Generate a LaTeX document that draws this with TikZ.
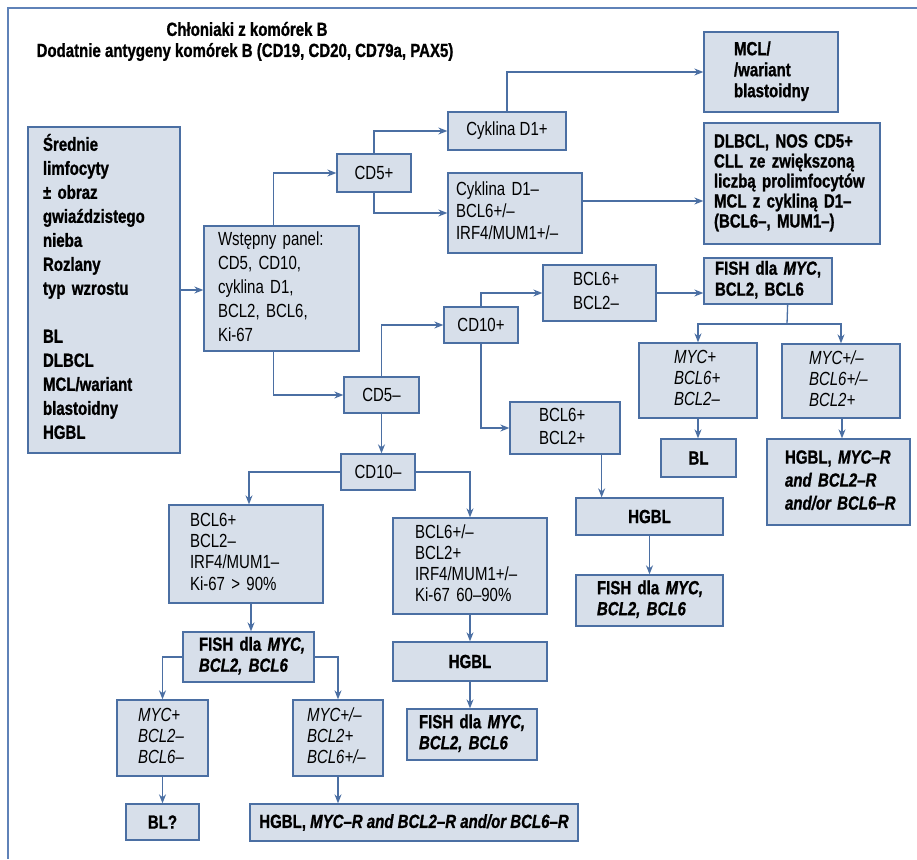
\documentclass[tikz,border=0pt]{standalone}
\usepackage{fontspec}
\setmainfont[FakeStretch=0.79, BoldFeatures={FakeBold=1}, BoldItalicFeatures={FakeBold=1}]{Liberation Sans}
\usetikzlibrary{arrows.meta}
\definecolor{bc}{HTML}{4B6FA3}
\definecolor{bf}{HTML}{D7DFEA}
\definecolor{fc}{HTML}{5F82B8}
\newcommand\tl[1]{\begin{tabular}{@{}l@{}}#1\end{tabular}}
\begin{document}
\begin{tikzpicture}[x=1pt,y=-1pt,
  bx/.style={draw=bc, fill=bf, line width=1.3pt, inner sep=0pt},
  rgf/.style={font=\fontsize{19}{#1}\selectfont},
  bdf/.style={font=\fontsize{19}{#1}\selectfont\bfseries},
  itf/.style={font=\fontsize{19}{#1}\selectfont\itshape},
  arr/.style={draw=bc, line width=1.3pt, -{Stealth[length=9pt,width=7pt]}},
  plain/.style={draw=bc, line width=1.3pt},
  frame/.style={draw=fc, line width=1.4pt}]
\useasboundingbox (0,0) rectangle (917,859);
\draw[frame] (917,8) -- (8,8) -- (8,859);

% title
\node[bdf=22] (t1) at (247,29) {Chłoniaki z komórek B};
\node[bdf=22] (t2) at (245,52) {Dodatnie antygeny komórek B (CD19, CD20, CD79a, PAX5)};

% boxes
\node[bx, bdf=24, minimum width=152pt, minimum height=326pt, text width=122pt, align=left] (big) at (104,290)
  {\tl{Średnie\\limfocyty\\± obraz\\gwiaździstego\\nieba\\Rozlany\\typ wzrostu\\ \\BL\\DLBCL\\MCL/wariant\\blastoidny\\HGBL}};
\node[bx, rgf=24, minimum width=155pt, minimum height=125pt, text width=127pt, align=left] (wst) at (281.5,288.5)
  {\tl{Wstępny panel:\\CD5, CD10,\\cyklina D1,\\BCL2, BCL6,\\Ki-67}};
\node[bx, rgf=24, minimum width=74pt, minimum height=38pt] (cd5p) at (374,173) {CD5+};
\node[bx, rgf=24, minimum width=118pt, minimum height=38pt] (cyp) at (507,131) {Cyklina D1+};
\node[bx, rgf=22, minimum width=134pt, minimum height=80pt, text width=118pt, align=left] (cym) at (515,213)
  {\tl{Cyklina D1–\\BCL6+/–\\IRF4/MUM1+/–}};
\node[bx, bdf=21, minimum width=134pt, minimum height=80pt, text width=74pt, align=left] (mcl) at (771,72)
  {\tl{MCL/\\/wariant\\blastoidny}};
\node[bx, bdf=20, minimum width=176pt, minimum height=121pt, text width=156pt, align=left] (dlbcl) at (792,183.5)
  {\tl{DLBCL, NOS CD5+\\CLL ze zwiększoną\\liczbą prolimfocytów\\MCL z cykliną D1–\\(BCL6–, MUM1–)}};
\node[bx, bdf=21, minimum width=128pt, minimum height=46pt, text width=106pt, align=left] (fishA) at (768,281)
  {\tl{FISH dla \textit{MYC},\\BCL2, BCL6}};
\node[bx, rgf=24, minimum width=113pt, minimum height=56pt, text width=53pt, align=left] (b6p2m) at (599.5,293)
  {\tl{BCL6+\\BCL2–}};
\node[bx, rgf=24, minimum width=74pt, minimum height=36pt] (cd10p) at (481,325) {CD10+};
\node[bx, rgf=24, minimum width=75pt, minimum height=36pt] (cd5m) at (381.5,395) {CD5–};
\node[bx, rgf=23, minimum width=110pt, minimum height=52pt, text width=52pt, align=left] (b6p2p) at (565,428)
  {\tl{BCL6+\\BCL2+}};
\node[bx, bdf=24, minimum width=147pt, minimum height=37pt] (hgblA) at (649.5,516.5) {HGBL};
\node[bx, bdf=21, minimum width=147pt, minimum height=51pt, text width=105pt, align=left] (fishB) at (649.5,600.5)
  {\tl{FISH dla \textit{MYC,}\\\textit{BCL2, BCL6}}};
\node[bx, itf=21, minimum width=118pt, minimum height=75pt, text width=48pt, align=left] (mycA) at (698,380.5)
  {\tl{MYC+\\BCL6+\\BCL2–}};
\node[bx, itf=21, minimum width=118pt, minimum height=74pt, text width=64pt, align=left] (mycB) at (841,381)
  {\tl{MYC+/–\\BCL6+/–\\BCL2+}};
\node[bx, bdf=24, minimum width=75pt, minimum height=38pt] (bl) at (698.5,458) {BL};
\node[bx, bdf=23, minimum width=143pt, minimum height=86pt, text width=107pt, align=left] (hgblB) at (838.5,482)
  {\tl{HGBL, \textit{MYC–R}\\\textit{and BCL2–R}\\\textit{and/or BCL6–R}}};
\node[bx, rgf=24, minimum width=74pt, minimum height=36pt] (cd10m) at (378,472) {CD10–};
\node[bx, rgf=21.3, minimum width=154pt, minimum height=98pt, text width=112pt, align=left] (lb) at (246,554)
  {\tl{BCL6+\\BCL2–\\IRF4/MUM1–\\Ki-67 > 90\%}};
\node[bx, rgf=21, minimum width=154pt, minimum height=96pt, text width=110pt, align=left] (rb) at (470,566)
  {\tl{BCL6+/–\\BCL2+\\IRF4/MUM1+/–\\Ki-67 60–90\%}};
\node[bx, bdf=21, minimum width=131pt, minimum height=50pt, text width=99pt, align=left] (fishC) at (248.5,657)
  {\tl{FISH dla \textit{MYC,}\\\textit{BCL2, BCL6}}};
\node[bx, bdf=24, minimum width=154pt, minimum height=39pt] (hgblC) at (470,661.5) {HGBL};
\node[bx, bdf=21, minimum width=130pt, minimum height=51pt, text width=106pt, align=left] (fishD) at (472,734.5)
  {\tl{FISH dla \textit{MYC,}\\\textit{BCL2, BCL6}}};
\node[bx, itf=21, minimum width=91pt, minimum height=76pt, text width=49pt, align=left] (mycC) at (162.5,738)
  {\tl{MYC+\\BCL2–\\BCL6–}};
\node[bx, itf=21, minimum width=90pt, minimum height=76pt, text width=62pt, align=left] (mycD) at (338,738)
  {\tl{MYC+/–\\BCL2+\\BCL6+/–}};
\node[bx, bdf=24, minimum width=73pt, minimum height=36pt] (blq) at (162.5,822) {BL?};
\node[bx, bdf=24, minimum width=328pt, minimum height=37pt] (hgblD) at (414,822.5)
  {HGBL, \textit{MYC–R and BCL2–R and/or BCL6–R}};

% connectors
\draw[arr] (big.east) -- (big.east -| wst.west);
\draw[arr] ([xshift=70pt]wst.north west) |- (cd5p.west);
\draw[arr] ([xshift=70pt]wst.south west) |- (cd5m.west);
\draw[arr] (cd5p.north) |- (cyp.west);
\draw[arr] (cd5p.south) |- (cym.west);
\draw[arr] (cyp.north) |- (mcl.west);
\draw[arr] ([yshift=12pt]cym.east) -- ([yshift=12pt]cym.east -| dlbcl.west);
\draw[arr] (cd5m.north) |- (cd10p.west);
\draw[arr] (cd10p.north) |- (b6p2m.west);
\draw[arr] (cd10p.south) |- (b6p2p.west);
\draw[arr] (b6p2m.east) -- (b6p2m.east -| fishA.west);
\coordinate (jA) at (787,324);
\draw[plain] ([xshift=-45pt]fishA.south east) -- (jA);
\draw[arr] (jA) -| (mycA.north);
\draw[arr] (jA) -| (mycB.north);
\draw[arr] (mycA.south) -- (mycA.south |- bl.north);
\draw[arr] ([xshift=1pt]mycB.south) -- ([xshift=1pt]mycB.south |- hgblB.north);
\draw[arr] ([xshift=-19pt]b6p2p.south east) -- ([xshift=-19pt]b6p2p.south east |- hgblA.north);
\draw[arr] (hgblA.south) -- (fishB.north);
\draw[arr] (cd5m.south) -- (cd5m.south |- cd10m.north);
\draw[arr] (cd10m.west) -| ([xshift=3pt]lb.north);
\draw[arr] (cd10m.east) -| (rb.north);
\draw[arr] ([xshift=5pt]lb.south) -- ([xshift=5pt]lb.south |- fishC.north);
\draw[arr] (fishC.west) -| (mycC.north);
\draw[arr] (fishC.east) -| (mycD.north);
\draw[arr] (mycC.south) -- (blq.north);
\draw[arr] (mycD.south) -- (mycD.south |- hgblD.north);
\draw[arr] (rb.south) -- (hgblC.north);
\draw[arr] (hgblC.south) -- (hgblC.south |- fishD.north);
\end{tikzpicture}
\end{document}
